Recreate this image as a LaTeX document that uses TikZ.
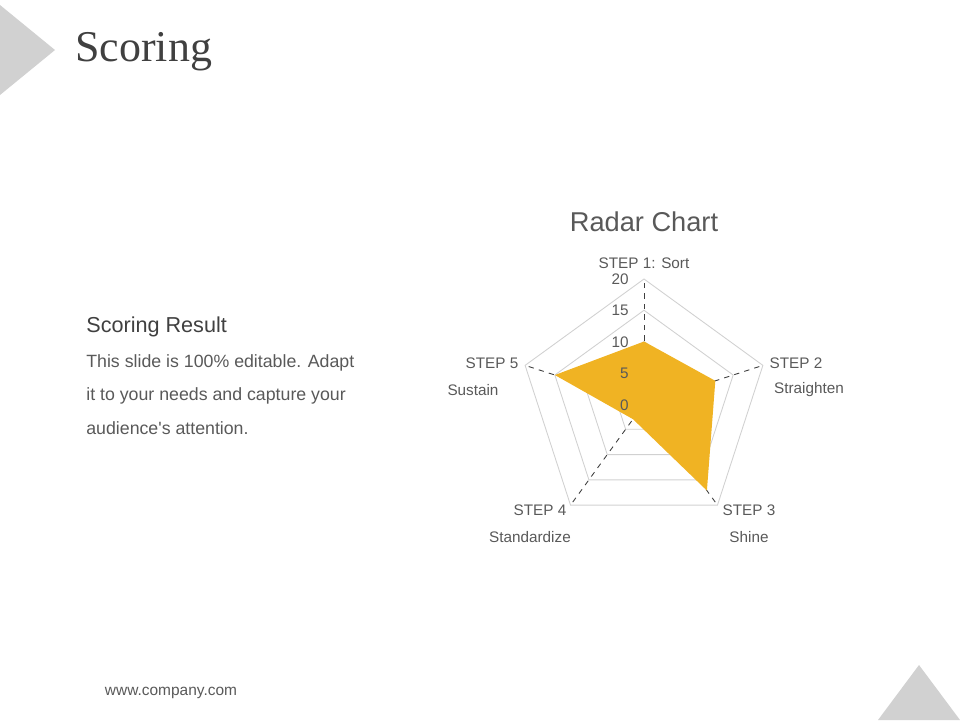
\documentclass[tikz,border=0pt]{standalone}
\usepackage{fontspec}
\setmainfont{Liberation Serif}
\newfontfamily\arial{Liberation Sans}
\usetikzlibrary{positioning,calc}
\definecolor{radarfill}{HTML}{F0B323}
\definecolor{txtgray}{HTML}{595959}
\begin{document}
\begin{tikzpicture}[
        x=0.02cm, y=-0.02cm,
        gridline/.style = {draw=black!18, line width=0.5pt},
        axisline/.style = {draw=black!75, dashed, line width=0.5pt},
        lbl/.style = {font=\arial\fontsize{8.7}{10}\selectfont, text=txtgray, inner sep=0pt},
        tick/.style = {font=\arial\fontsize{8.7}{10}\selectfont, text=txtgray, inner sep=0pt, anchor=east}
        ]
        \useasboundingbox (0,0) rectangle (960,720);
%
        \fill[black!18] (0,5) -- (55,50) -- (0,95) -- cycle;
        \fill[black!18] (878,720) -- (919,665) -- (960,720) -- cycle;
        \node[anchor=west, inner sep=0pt, font=\fontsize{25}{28}\selectfont, text=black!75] (title) at (75,52) {Scoring};
%
        \node[anchor=west, inner sep=0pt, font=\arial\fontsize{12.3}{14}\selectfont, text=black!75] (head) at (86,327) {Scoring Result};
        \node[anchor=north west, inner sep=0pt, align=left, text=txtgray,
              font=\arial\fontsize{10.1}{19.2}\selectfont] (body) at (86,354)
              {This slide is 100\% editable. Adapt\\it to your needs and capture your\\audience's attention.};
        \node[inner sep=0pt, font=\arial\fontsize{8.8}{10}\selectfont, text=txtgray] (web) at (171,693) {www.company.com};
%
        \node[inner sep=0pt, font=\arial\fontsize{15.5}{18}\selectfont, text=black!65] (chart) at (644,222) {Radar Chart};
        \coordinate (c) at (644,404);
%
        \foreach \r in {31.25,62.5,93.75,125}
            \draw[gridline] ($(c)+(-90:\r)$) -- ($(c)+(-18:\r)$) -- ($(c)+(54:\r)$)
                -- ($(c)+(126:\r)$) -- ($(c)+(198:\r)$) -- cycle;
        \foreach \k in {1,...,5}
            \coordinate (v\k) at ($(c)+(-90+72*\k-72:125)$);
        \foreach \k in {1,...,5}
            \draw[axisline] (c) -- (v\k);
%
        \fill[radarfill] ($(c)+(-90:62.5)$) -- ($(c)+(-18:75)$) -- ($(c)+(54:107)$)
            -- ($(c)+(126:18.75)$) -- ($(c)+(198:93.75)$) -- cycle;
%
        \node[lbl] (s1) at (644,263) {STEP 1: Sort};
        \node[lbl] (s2) at (796,363) {STEP 2};
        \node[lbl] (s2b) at (809,390) {Straighten};
        \node[lbl] (s3) at (749,510) {STEP 3};
        \node[lbl] (s3b) at (749,537) {Shine};
        \node[lbl] (s4) at (540,510) {STEP 4};
        \node[lbl] (s4b) at (530,537) {Standardize};
        \node[lbl] (s5) at (492,363) {STEP 5};
        \node[lbl] (s5b) at (473,390) {Sustain};
%
        \node[tick] (t20) at (629,279) {20};
        \node[tick] (t15) at (629,310) {15};
        \node[tick] (t10) at (629,342) {10};
        \node[tick] (t5) at (629,373) {5};
        \node[tick] (t0) at (629,405) {0};
\end{tikzpicture}
\end{document}
